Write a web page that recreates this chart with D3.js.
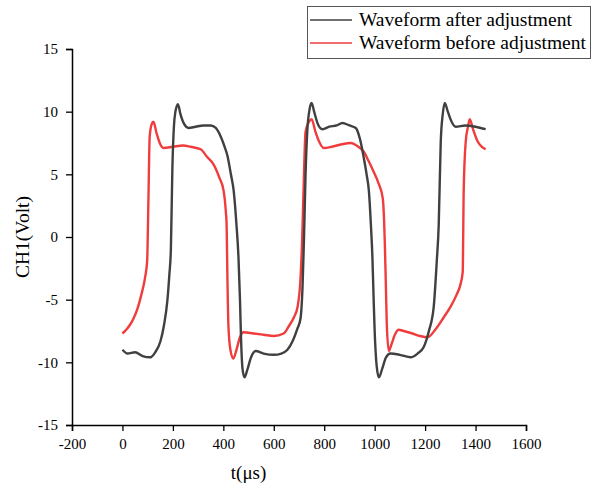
<!DOCTYPE html>
<html>
<head>
<meta charset="utf-8">
<script src="https://cdn.jsdelivr.net/npm/d3@7"></script>
<style>
  body { margin: 0; background: #fff; }
  svg { display: block; font-family: "Liberation Serif", "Times New Roman", serif; }
</style>
</head>
<body>
<div id="vis"></div>
<script>
// dimensions of the frame
const FRAME_WIDTH = 597;
const FRAME_HEIGHT = 486;

// plot area edges (pixels)
const MARGINS = {left: 72, right: 71, top: 49, bottom: 61};

// time samples (µs) and voltages
const T_AFTER = [0, 20, 50, 80, 111, 130, 151, 165, 178, 186, 192, 198, 204, 210, 220, 230, 245, 262,
  290, 320, 350, 370, 390, 405, 416, 430, 441, 452, 460, 466, 470, 476, 484, 495, 510, 528, 560, 600,
  630, 654, 675, 694, 706, 714, 720, 726, 733, 742, 750, 760, 775, 793, 820, 850, 872, 900, 925, 942,
  957, 968, 977, 985, 991, 996, 1000, 1008, 1017, 1030, 1045, 1063, 1100, 1143, 1170, 1194, 1215,
  1234, 1246, 1254, 1262, 1270, 1278, 1290, 1305, 1321, 1360, 1400, 1440];
const V_AFTER = [-9.0, -9.3, -9.2, -9.5, -9.6, -9.2, -8.3, -7.0, -5.1, -3, -1, 5.5, 8.8, 10.0, 10.6, 9.8, 9.0, 8.7,
  8.8, 8.9, 8.9, 8.7, 8.0, 7.2, 6.5, 5.0, 3.7, 1, -1.6, -5, -8, -10.5, -11.2, -10.6, -9.6, -9.1, -9.3, -9.4,
  -9.3, -9.0, -8.3, -7.3, -6.5, -4, 0, 5, 8.5, 10.2, 10.7, 10, 9.0, 8.6, 8.8, 8.9, 9.1, 8.9, 8.7, 7.8,
  6.3, 5, 3.7, 1, -1.6, -5, -7.5, -10.3, -11.2, -10.5, -9.6, -9.3, -9.4, -9.6, -9.3, -8.8, -7.5,
  -5.6, -2, 1, 7.6, 9.8, 10.7, 10, 9.2, 8.8, 8.9, 8.8, 8.6];

const T_BEFORE = [0, 15, 30, 44, 60, 75, 90, 98, 103, 108, 116, 123, 135, 150, 163, 200, 240, 270,
  310, 335, 361, 385, 401, 410, 413, 416, 420, 428, 440, 452, 466, 480, 520, 560, 600, 639, 660, 680,
  694, 706, 712, 718, 726, 740, 750, 765, 780, 798, 830, 870, 905, 935, 957, 975, 996, 1015, 1032,
  1037, 1040, 1044, 1048, 1056, 1066, 1080, 1095, 1115, 1150, 1180, 1210, 1240, 1274, 1300, 1325,
  1340, 1349, 1353, 1361, 1370, 1377, 1390, 1409, 1425, 1440];
const V_BEFORE = [-7.7, -7.4, -7.0, -6.5, -5.7, -4.6, -3.2, -1.9, 3, 8, 9.0, 9.2, 8.3, 7.4, 7.1, 7.2, 7.3, 7.2,
  7.0, 6.4, 5.8, 4.7, 3.7, 2, 1, -3, -7, -9, -9.7, -9.0, -8.0, -7.6, -7.7, -7.8, -7.9, -7.7, -7.1, -6.4,
  -5.6, -3.3, -0.5, 3.7, 8.4, 9.2, 9.4, 8.4, 7.6, 7.1, 7.2, 7.4, 7.5, 7.2, 6.8, 6.1, 5.2, 4.3, 3.1,
  1.5, -0.3, -3.5, -6.9, -9.1, -8.6, -7.8, -7.4, -7.5, -7.7, -7.9, -8.0, -7.4, -6.4, -5.6, -4.6,
  -3.8, -2.8, 3.7, 7.6, 8.8, 9.4, 8.6, 7.6, 7.2, 7.0];

// tick values
const X_TICKS = [-200, 0, 200, 400, 600, 800, 1000, 1200, 1400, 1600];
const Y_TICKS = [-15, -10, -5, 0, 5, 10, 15];

// legend labels
const LEGEND = ["Waveform after adjustment", "Waveform before adjustment"];
const COLORS = ["#404040", "#f03c3c"];

const VIS_WIDTH = FRAME_WIDTH - MARGINS.left - MARGINS.right;
const VIS_HEIGHT = FRAME_HEIGHT - MARGINS.top - MARGINS.bottom;

const FRAME = d3.select("#vis")
  .append("svg")
  .attr("width", FRAME_WIDTH)
  .attr("height", FRAME_HEIGHT);

// scales
const X_SCALE = d3.scaleLinear().domain([-200, 1600]).range([0, VIS_WIDTH]);
const Y_SCALE = d3.scaleLinear().domain([-15, 15]).range([VIS_HEIGHT, 0]);

const plot = FRAME.append("g")
  .attr("transform", "translate(" + MARGINS.left + "," + MARGINS.top + ")");

// line generator
const line = d3.line()
  .x((d) => X_SCALE(d[0]))
  .y((d) => Y_SCALE(d[1]))
  .curve(d3.curveMonotoneX);

const series = [
  d3.zip(T_AFTER, V_AFTER),
  d3.zip(T_BEFORE, V_BEFORE)
];

// draw the red one first so the dark one sits on top where they cross
[1, 0].forEach((i) => {
  plot.append("path")
    .datum(series[i])
    .attr("fill", "none")
    .attr("stroke", COLORS[i])
    .attr("stroke-width", 2.4)
    .attr("stroke-linejoin", "round")
    .attr("d", line);
});

// minor ticks
const xMinor = d3.range(-200, 1601, 100);
const yMinor = d3.range(-15, 15.1, 2.5);

// plain hyphen for negatives, like the original
const fmt = (d) => String(d);

const xAxisG = plot.append("g")
  .attr("transform", "translate(0," + VIS_HEIGHT + ")");
xAxisG.call(d3.axisBottom(X_SCALE).tickValues(xMinor).tickSize(4).tickFormat(""));
xAxisG.call(d3.axisBottom(X_SCALE).tickValues(X_TICKS).tickSize(6).tickPadding(7).tickFormat(fmt));

const yAxisG = plot.append("g");
yAxisG.call(d3.axisLeft(Y_SCALE).tickValues(yMinor).tickSize(4).tickFormat(""));
yAxisG.call(d3.axisLeft(Y_SCALE).tickValues(Y_TICKS).tickSize(6).tickPadding(8).tickFormat(fmt));

FRAME.selectAll(".domain").attr("stroke", "#000").attr("stroke-width", 1.5);
FRAME.selectAll(".tick line").attr("stroke", "#000").attr("stroke-width", 1.3);
FRAME.selectAll(".tick text")
  .attr("font-family", "'Liberation Serif', serif")
  .attr("font-size", 15)
  .attr("fill", "#000");

// axis titles
FRAME.append("text")
  .attr("x", MARGINS.left + X_SCALE(500))
  .attr("y", 479)
  .attr("text-anchor", "middle")
  .attr("font-size", 19)
  .text("t(μs)");

FRAME.append("text")
  .attr("transform", "translate(29," + (MARGINS.top + Y_SCALE(0)) + ") rotate(-90)")
  .attr("text-anchor", "middle")
  .attr("font-size", 19.5)
  .text("CH1(Volt)");

// legend
const legend = FRAME.append("g");
legend.append("rect")
  .attr("x", 307.5)
  .attr("y", 6.5)
  .attr("width", 283)
  .attr("height", 52)
  .attr("fill", "#fff")
  .attr("stroke", "#555")
  .attr("stroke-width", 1);

LEGEND.forEach((label, i) => {
  const cy = 20 + i * 23;
  legend.append("line")
    .attr("x1", 310)
    .attr("x2", 352)
    .attr("y1", cy)
    .attr("y2", cy)
    .attr("stroke", COLORS[i])
    .attr("stroke-width", 1.5);
  legend.append("text")
    .attr("x", 359)
    .attr("y", cy + 6)
    .attr("font-size", 19.5)
    .text(label);
});
</script>
</body>
</html>
